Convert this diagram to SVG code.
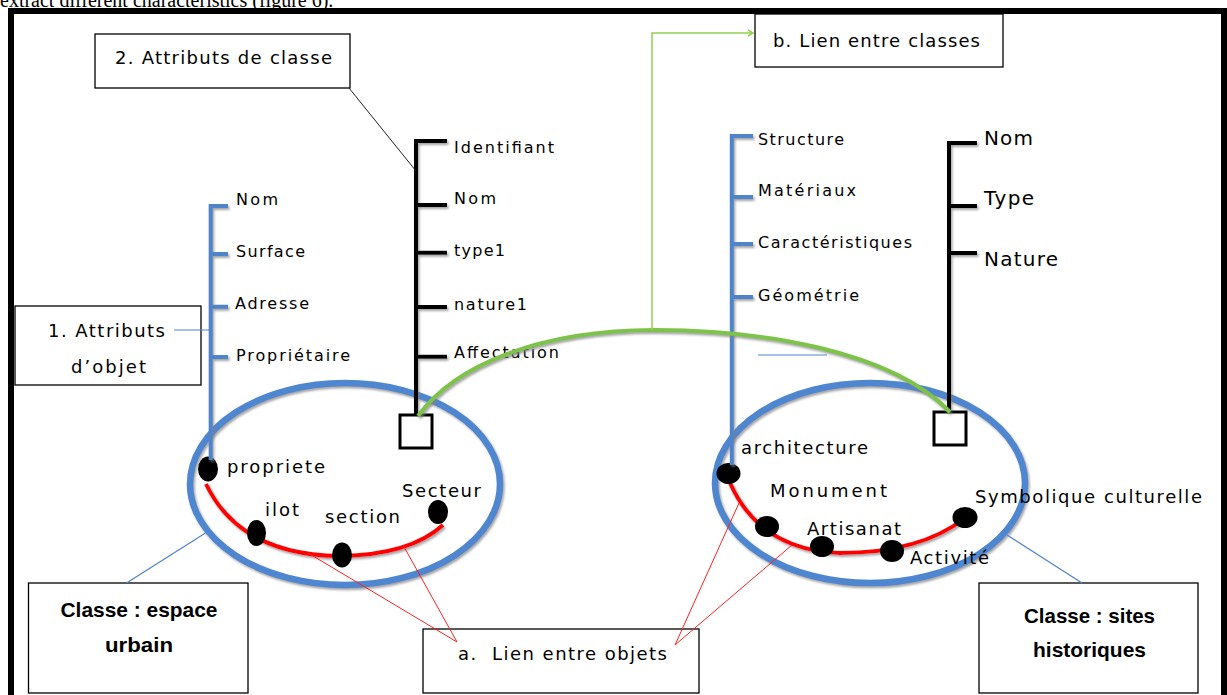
<svg xmlns="http://www.w3.org/2000/svg" width="1227" height="695" viewBox="0 0 1227 695">
<style>
.lbl{font-family:"DejaVu Sans","Liberation Sans",sans-serif;fill:#000}
.s16{font-size:16px}
.s18{font-size:18px}
.s20{font-size:20px}
.bold{font-family:"Liberation Sans","DejaVu Sans",sans-serif;font-weight:bold;font-size:21px;fill:#000}
.box{fill:#fff;stroke:#000;stroke-width:1.3}
.blue{stroke:#4f84cb;stroke-width:4;fill:none}
.black{stroke:#000;stroke-width:4;fill:none}
.ell{fill:none;stroke:#4f86d0;stroke-width:6.5}
.red{fill:none;stroke:#ff0000;stroke-width:4}
.dot{fill:#000}
.sq{fill:#fff;stroke:#000;stroke-width:3}
.thinred{stroke:#ff2020;stroke-width:1;fill:none}
.thinblue{stroke:#4f84cb;stroke-width:1.2;fill:none}
</style>
<defs>
<filter id="sh" x="-10%" y="-10%" width="130%" height="130%">
<feDropShadow dx="1.5" dy="2" stdDeviation="0.8" flood-color="#7f7f7f" flood-opacity="0.7"/>
</filter>
<marker id="garr" markerWidth="8" markerHeight="8" refX="6" refY="4" orient="auto" markerUnits="userSpaceOnUse">
<path d="M1,1 L6,4 L1,7" fill="none" stroke="#92d050" stroke-width="1.5"/>
</marker>
</defs>
<rect width="1227" height="695" fill="#fff"/>
<text x="0" y="7" font-family="Liberation Serif,serif" font-size="20">extract different characteristics (figure 6).</text>
<rect id="frame" x="11" y="11" width="1213" height="720" fill="none" stroke="#000" stroke-width="6"/>

<g id="class-espace-urbain">
<ellipse class="ell" cx="345" cy="484" rx="155" ry="101" filter="url(#sh)"/>
<path class="red" d="M206,484 Q240,555 340,556 Q410,555 443,525" filter="url(#sh)"/>
<ellipse class="dot" cx="208" cy="469" rx="10" ry="12.5"/>
<ellipse class="dot" cx="256.5" cy="533" rx="9.5" ry="13"/>
<ellipse class="dot" cx="342" cy="555" rx="10" ry="12.5"/>
<ellipse class="dot" cx="438" cy="512" rx="10" ry="12"/>
<text class="lbl s18" x="227" y="473" textLength="98" lengthAdjust="spacing">propriete</text>
<text class="lbl s18" x="265" y="516" textLength="34" lengthAdjust="spacing">ilot</text>
<text class="lbl s18" x="325" y="523" textLength="75" lengthAdjust="spacing">section</text>
<text class="lbl s18" x="402" y="497" textLength="79" lengthAdjust="spacing">Secteur</text>
</g>

<g id="class-sites-historiques">
<ellipse class="ell" cx="870" cy="483" rx="155" ry="100" filter="url(#sh)"/>
<path class="red" d="M730,483 Q760,550 840,553 Q920,553 965,518" filter="url(#sh)"/>
<ellipse class="dot" cx="728.5" cy="473.5" rx="12" ry="10.5"/>
<ellipse class="dot" cx="767" cy="526.5" rx="12" ry="10.5"/>
<ellipse class="dot" cx="822" cy="546.5" rx="12" ry="10.5"/>
<ellipse class="dot" cx="892" cy="551" rx="12" ry="11"/>
<ellipse class="dot" cx="965" cy="517.5" rx="12.5" ry="10.5"/>
<text class="lbl s18" x="741" y="454" textLength="127" lengthAdjust="spacing">architecture</text>
<text class="lbl s18" x="770" y="497" textLength="117" lengthAdjust="spacing">Monument</text>
<text class="lbl s18" x="807" y="535" textLength="94" lengthAdjust="spacing">Artisanat</text>
<text class="lbl s18" x="910" y="564" textLength="79" lengthAdjust="spacing">Activité</text>
<text class="lbl s18" x="975" y="503" textLength="227" lengthAdjust="spacing">Symbolique culturelle</text>
</g>

<g id="tree-attributs-objet-urbain">
<path class="blue" filter="url(#sh)" d="M228,206 H210.7 V460 M210.7,254 H228 M210.7,306.7 H228 M210.7,357 H228"/>
<text class="lbl s16" x="236" y="205" textLength="42" lengthAdjust="spacing">Nom</text>
<text class="lbl s16" x="236" y="257" textLength="69" lengthAdjust="spacing">Surface</text>
<text class="lbl s16" x="235" y="309" textLength="74" lengthAdjust="spacing">Adresse</text>
<text class="lbl s16" x="236" y="361" textLength="114" lengthAdjust="spacing">Propriétaire</text>
</g>

<g id="tree-attributs-classe-urbain">
<path class="black" filter="url(#sh)" d="M447,141 H416 V415 M416,205 H447 M416,252.7 H447 M416,307 H447 M416,356.7 H447"/>
<rect class="sq" x="400" y="415" width="32" height="33"/>
<text class="lbl s16" x="454" y="153" textLength="100" lengthAdjust="spacing">Identifiant</text>
<text class="lbl s16" x="454" y="204" textLength="42" lengthAdjust="spacing">Nom</text>
<text class="lbl s16" x="454" y="256" textLength="51" lengthAdjust="spacing">type1</text>
<text class="lbl s16" x="454" y="310" textLength="73" lengthAdjust="spacing">nature1</text>
<text class="lbl s16" x="454" y="358" textLength="105" lengthAdjust="spacing">Affectation</text>
</g>

<g id="tree-attributs-objet-sites">
<path class="blue" filter="url(#sh)" d="M753,136 H731.8 V465 M731.8,197 H753 M731.8,244 H753 M731.8,297 H753"/>
<text class="lbl s16" x="758" y="145" textLength="86" lengthAdjust="spacing">Structure</text>
<text class="lbl s16" x="758" y="196" textLength="98" lengthAdjust="spacing">Matériaux</text>
<text class="lbl s16" x="758" y="248" textLength="154" lengthAdjust="spacing">Caractéristiques</text>
<text class="lbl s16" x="758" y="301" textLength="101" lengthAdjust="spacing">Géométrie</text>
</g>

<g id="tree-attributs-classe-sites">
<path class="black" filter="url(#sh)" d="M977,143 H949 V412 M949,206 H977 M949,253 H977"/>
<rect class="sq" x="934" y="412" width="32" height="33"/>
<text class="lbl s20" x="984" y="145" textLength="49" lengthAdjust="spacing">Nom</text>
<text class="lbl s20" x="984" y="205" textLength="50" lengthAdjust="spacing">Type</text>
<text class="lbl s20" x="984" y="266" textLength="74" lengthAdjust="spacing">Nature</text>
</g>

<g id="box-attributs-classe">
<rect class="box" x="95" y="34" width="255" height="54"/>
<text class="lbl s18" x="115" y="64" textLength="217" lengthAdjust="spacing">2. Attributs de classe</text>
</g>
<g id="box-lien-classes">
<rect class="box" x="755" y="14" width="248" height="53"/>
<text class="lbl s18" x="773" y="47" textLength="207" lengthAdjust="spacing">b. Lien entre classes</text>
</g>
<g id="box-attributs-objet">
<rect class="box" x="15" y="306" width="186" height="79"/>
<text class="lbl s18" x="48" y="337" textLength="117" lengthAdjust="spacing">1. Attributs</text>
<text class="lbl s18" x="71" y="373" textLength="75" lengthAdjust="spacing">d’objet</text>
</g>
<g id="box-classe-espace">
<rect class="box" x="28.5" y="583" width="219.5" height="110"/>
<text class="bold" x="60.5" y="617" textLength="157" lengthAdjust="spacingAndGlyphs">Classe : espace</text>
<text class="bold" x="105" y="652" textLength="68" lengthAdjust="spacingAndGlyphs">urbain</text>
</g>
<g id="box-lien-objets">
<rect class="box" x="423" y="629" width="276" height="64"/>
<text class="lbl s18" x="458" y="660" textLength="209" lengthAdjust="spacing">a.&#160; Lien entre objets</text>
</g>
<g id="box-classe-sites">
<rect class="box" x="979" y="583" width="219" height="110"/>
<text class="bold" x="1024" y="623" textLength="131" lengthAdjust="spacingAndGlyphs">Classe : sites</text>
<text class="bold" x="1033" y="657" textLength="113" lengthAdjust="spacingAndGlyphs">historiques</text>
</g>

<g id="connectors">
<path d="M418,416 C455,365 540,330 655,330 C760,330 890,350 950,412" fill="none" stroke="#7dc24a" stroke-width="4" filter="url(#sh)"/>
<path d="M652,330 V33 H753" fill="none" stroke="#92d050" stroke-width="1.5" marker-end="url(#garr)"/>
<line x1="349" y1="88" x2="416" y2="171" stroke="#222" stroke-width="1"/>
<line class="thinblue" x1="174" y1="330" x2="212" y2="330"/>
<line class="thinblue" x1="126.5" y1="583" x2="205.5" y2="533"/>
<line class="thinblue" x1="1007" y1="535" x2="1082" y2="583"/>
<line class="thinblue" x1="758" y1="355" x2="827" y2="355" stroke="#8db3e2"/>
<path class="thinred" d="M308,553 L457,642 L403,545"/>
<path class="thinred" d="M739,503 L675,645 L792,545"/>
</g>
</svg>
